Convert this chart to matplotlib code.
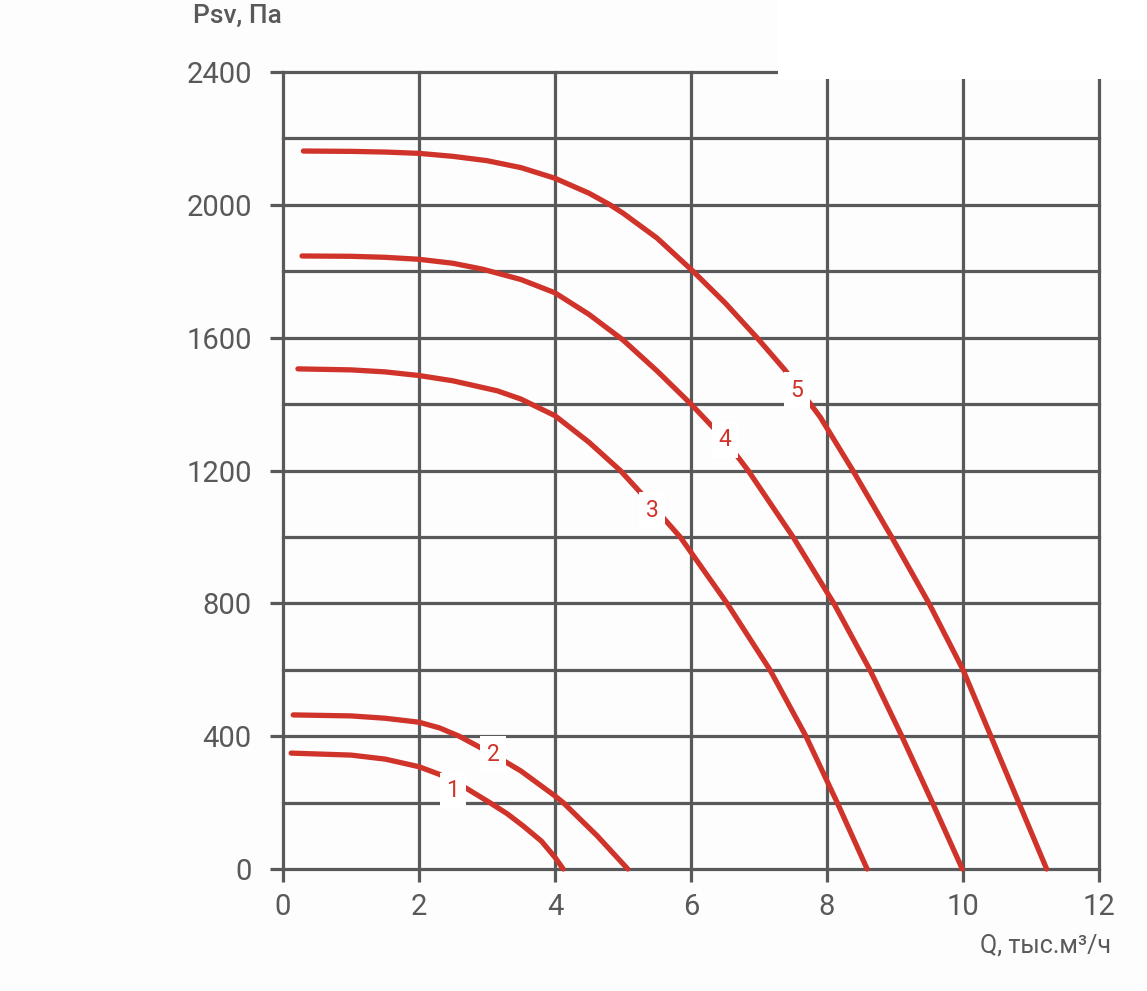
import matplotlib
matplotlib.use("Agg")
import matplotlib.pyplot as plt
from matplotlib.patches import Rectangle

plt.rcParams['font.family'] = ['Roboto', 'DejaVu Sans']

# curves: Q (тыс.м3/ч) vs Psv (Па)
q1 = [0.12, 1.0, 1.5, 2.0, 2.3, 2.68, 3.04, 3.3, 3.53, 3.8, 4.0, 4.12]
p1 = [349, 343, 331, 308, 285, 245, 200, 166, 130, 84, 35, 0]

q2 = [0.15, 1.0, 1.5, 2.0, 2.3, 2.59, 3.09, 3.5, 4.0, 4.12, 4.62, 5.07]
p2 = [464, 461, 454, 442, 425, 400, 345, 295, 220, 200, 100, 0]

q3 = [0.22, 1.0, 1.5, 2.0, 2.5, 3.15, 3.5, 4.0, 4.5, 4.96, 5.43, 5.84, 6.53, 7.16, 7.69, 8.15, 8.59]
p3 = [1506, 1503, 1497, 1486, 1470, 1440, 1415, 1365, 1285, 1200, 1095, 1000, 800, 600, 400, 200, 0]

q4 = [0.28, 1.0, 1.5, 2.0, 2.5, 2.94, 3.5, 4.0, 4.5, 5.0, 5.5, 6.0, 6.5, 6.84, 7.5, 8.1, 8.63, 9.1, 9.55, 9.99]
p4 = [1846, 1845, 1842, 1836, 1824, 1806, 1775, 1735, 1670, 1593, 1500, 1400, 1292, 1200, 1000, 800, 600, 400, 200, 0]

q5 = [0.30, 1.0, 1.5, 2.0, 2.5, 3.0, 3.5, 4.0, 4.5, 4.81, 5.0, 5.5, 6.03, 6.5, 6.97, 7.38, 7.9, 8.38, 8.95, 9.5, 10.0, 10.41, 10.82, 11.23]
p5 = [2162, 2161, 2159, 2155, 2146, 2133, 2112, 2080, 2035, 2000, 1975, 1900, 1800, 1705, 1600, 1503, 1361, 1200, 1000, 800, 600, 400, 200, 0]

curves = [(q1, p1), (q2, p2), (q3, p3), (q4, p4), (q5, p5)]
curve_names = ['1', '2', '3', '4', '5']
label_q = [2.5, 3.09, 5.43, 6.5, 7.56]
label_p = [236, 346, 1081, 1292, 1442]

x_ticks = [0, 2, 4, 6, 8, 10, 12]
y_ticks = [0, 400, 800, 1200, 1600, 2000, 2400]
y_minor = [200, 600, 1000, 1400, 1800, 2200]

grey = '#58595b'
red = '#d0332a'

fig = plt.figure(figsize=(11.47, 9.91), dpi=100, facecolor='#fdfdfd')
ax = fig.add_axes([283/1147, 1-869/991, 816/1147, 797/991])
ax.set_facecolor('#fdfdfd')
ax.set_xlim(0, 12)
ax.set_ylim(0, 2400)
for s in ax.spines.values():
    s.set_visible(False)

# grid
for v in x_ticks:
    ax.axvline(v, color=grey, lw=2.3, zorder=1, clip_on=False)
for v in y_ticks + y_minor:
    ax.axhline(v, color=grey, lw=2.3, zorder=1, clip_on=False)

ax.set_xticks(x_ticks)
ax.set_yticks(y_ticks)
ax.set_xticklabels([str(v) for v in x_ticks])
ax.set_yticklabels([str(v) for v in y_ticks])
ax.tick_params(axis='both', length=9.5, width=2.3, color=grey, labelcolor=grey, labelsize=21)
ax.tick_params(axis='y', pad=13)
ax.tick_params(axis='x', pad=8)

for (q, p) in curves:
    ax.plot(q, p, color=red, lw=3.8, solid_capstyle='round', solid_joinstyle='round',
            zorder=3, clip_on=False)

for name, lq, lp in zip(curve_names, label_q, label_p):
    ax.text(lq, lp, name, color=red, fontsize=16.5, ha='center', va='center', zorder=5,
            bbox=dict(boxstyle='square,pad=0.28', fc='white', ec='none'))

fig.text(193/1147, 1-16/991, 'Psv, Па', fontsize=19, fontweight='medium', color=grey,
         ha='left', va='center')
fig.text(1111/1147, 1-946/991, 'Q, тыс.м³/ч', fontsize=18, color=grey,
         ha='right', va='center')

# white block at the top right corner
fig.add_artist(Rectangle((778/1147, 1-79/991), 369/1147, 79/991, transform=fig.transFigure,
                         facecolor='white', edgecolor='none', zorder=10))

fig.savefig('out.png', dpi=100, facecolor=fig.get_facecolor())
